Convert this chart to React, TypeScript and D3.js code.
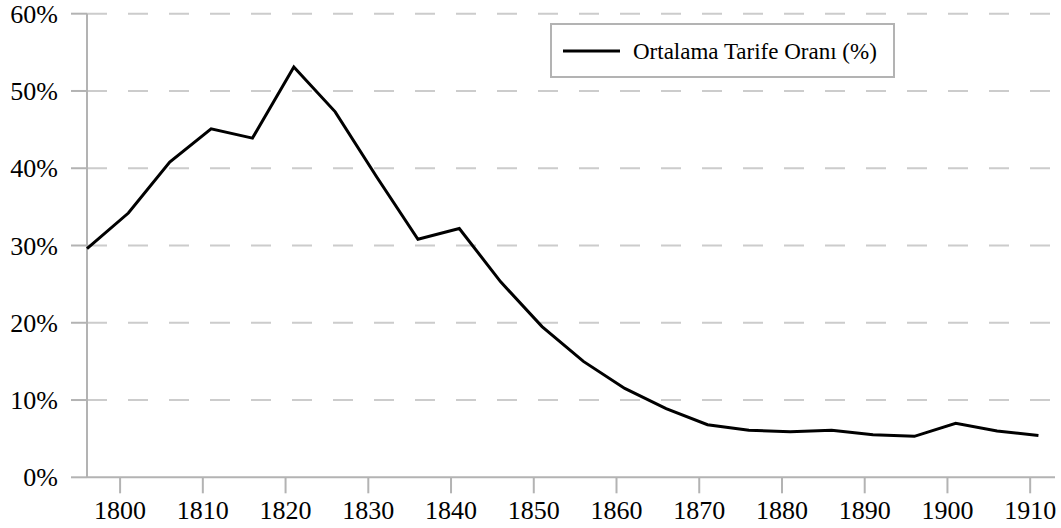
import React from "react";
import * as d3 from "d3";

const years = [1796, 1801, 1806, 1811, 1816, 1821, 1826, 1831, 1836, 1841, 1846, 1851, 1856, 1861, 1866, 1871, 1876, 1881, 1886, 1891, 1896, 1901, 1906, 1911];
const tariffRate = [29.6, 34.2, 40.8, 45.1, 43.9, 53.1, 47.3, 38.9, 30.8, 32.2, 25.3, 19.5, 15.0, 11.5, 8.9, 6.8, 6.1, 5.9, 6.1, 5.5, 5.3, 7.0, 6.0, 5.4];
const xTicks = [1800, 1810, 1820, 1830, 1840, 1850, 1860, 1870, 1880, 1890, 1900, 1910];
const yTicks = [0, 10, 20, 30, 40, 50, 60];
const seriesName = "Ortalama Tarife Oranı (%)";

const W = 1061;
const H = 528;
const FONT = "'Liberation Serif', 'Times New Roman', serif";

export default function App() {
  const x = d3.scaleLinear().domain([1796, 1913]).range([87, 1055]);
  const y = d3.scaleLinear().domain([0, 60]).range([477.3, 13.7]);
  const line = d3
    .line<number>()
    .x((_, i) => x(years[i]))
    .y((d) => y(d));

  return (
    <svg
      width={W}
      height={H}
      style={{ position: "absolute", left: 0, top: 0, background: "#fff" }}
    >
      {yTicks.map((t) => (
        <g key={"y" + t}>
          {t > 0 && (
            <line
              x1={87}
              x2={1055}
              y1={y(t)}
              y2={y(t)}
              stroke="#cccccc"
              strokeWidth={2}
              strokeDasharray="20,21"
            />
          )}
          <line x1={71} x2={87} y1={y(t)} y2={y(t)} stroke="#b3b3b3" strokeWidth={2} />
          <text
            x={58}
            y={y(t)}
            dy="0.35em"
            textAnchor="end"
            fontFamily={FONT}
            fontSize={26}
            fill="#000"
          >
            {t + "%"}
          </text>
        </g>
      ))}
      <line x1={87} x2={87} y1={y(60)} y2={y(0)} stroke="#b3b3b3" strokeWidth={2} />
      <line x1={87} x2={1055} y1={y(0)} y2={y(0)} stroke="#b3b3b3" strokeWidth={2} />
      {xTicks.map((t) => (
        <g key={"x" + t}>
          <line x1={x(t)} x2={x(t)} y1={y(0)} y2={y(0) + 16} stroke="#b3b3b3" strokeWidth={2} />
          <text
            x={x(t)}
            y={519}
            textAnchor="middle"
            fontFamily={FONT}
            fontSize={26}
            fill="#000"
          >
            {t}
          </text>
        </g>
      ))}
      <path
        d={line(tariffRate) || ""}
        fill="none"
        stroke="#000"
        strokeWidth={3}
        strokeLinejoin="miter"
      />
      <g>
        <rect x={551} y={24} width={343} height={53} fill="#fff" stroke="#b3b3b3" strokeWidth={2} />
        <line x1={563} x2={620} y1={51} y2={51} stroke="#000" strokeWidth={3} />
        <text x={633} y={51} dy="0.35em" fontFamily={FONT} fontSize={23} fill="#000">
          {seriesName}
        </text>
      </g>
    </svg>
  );
}
